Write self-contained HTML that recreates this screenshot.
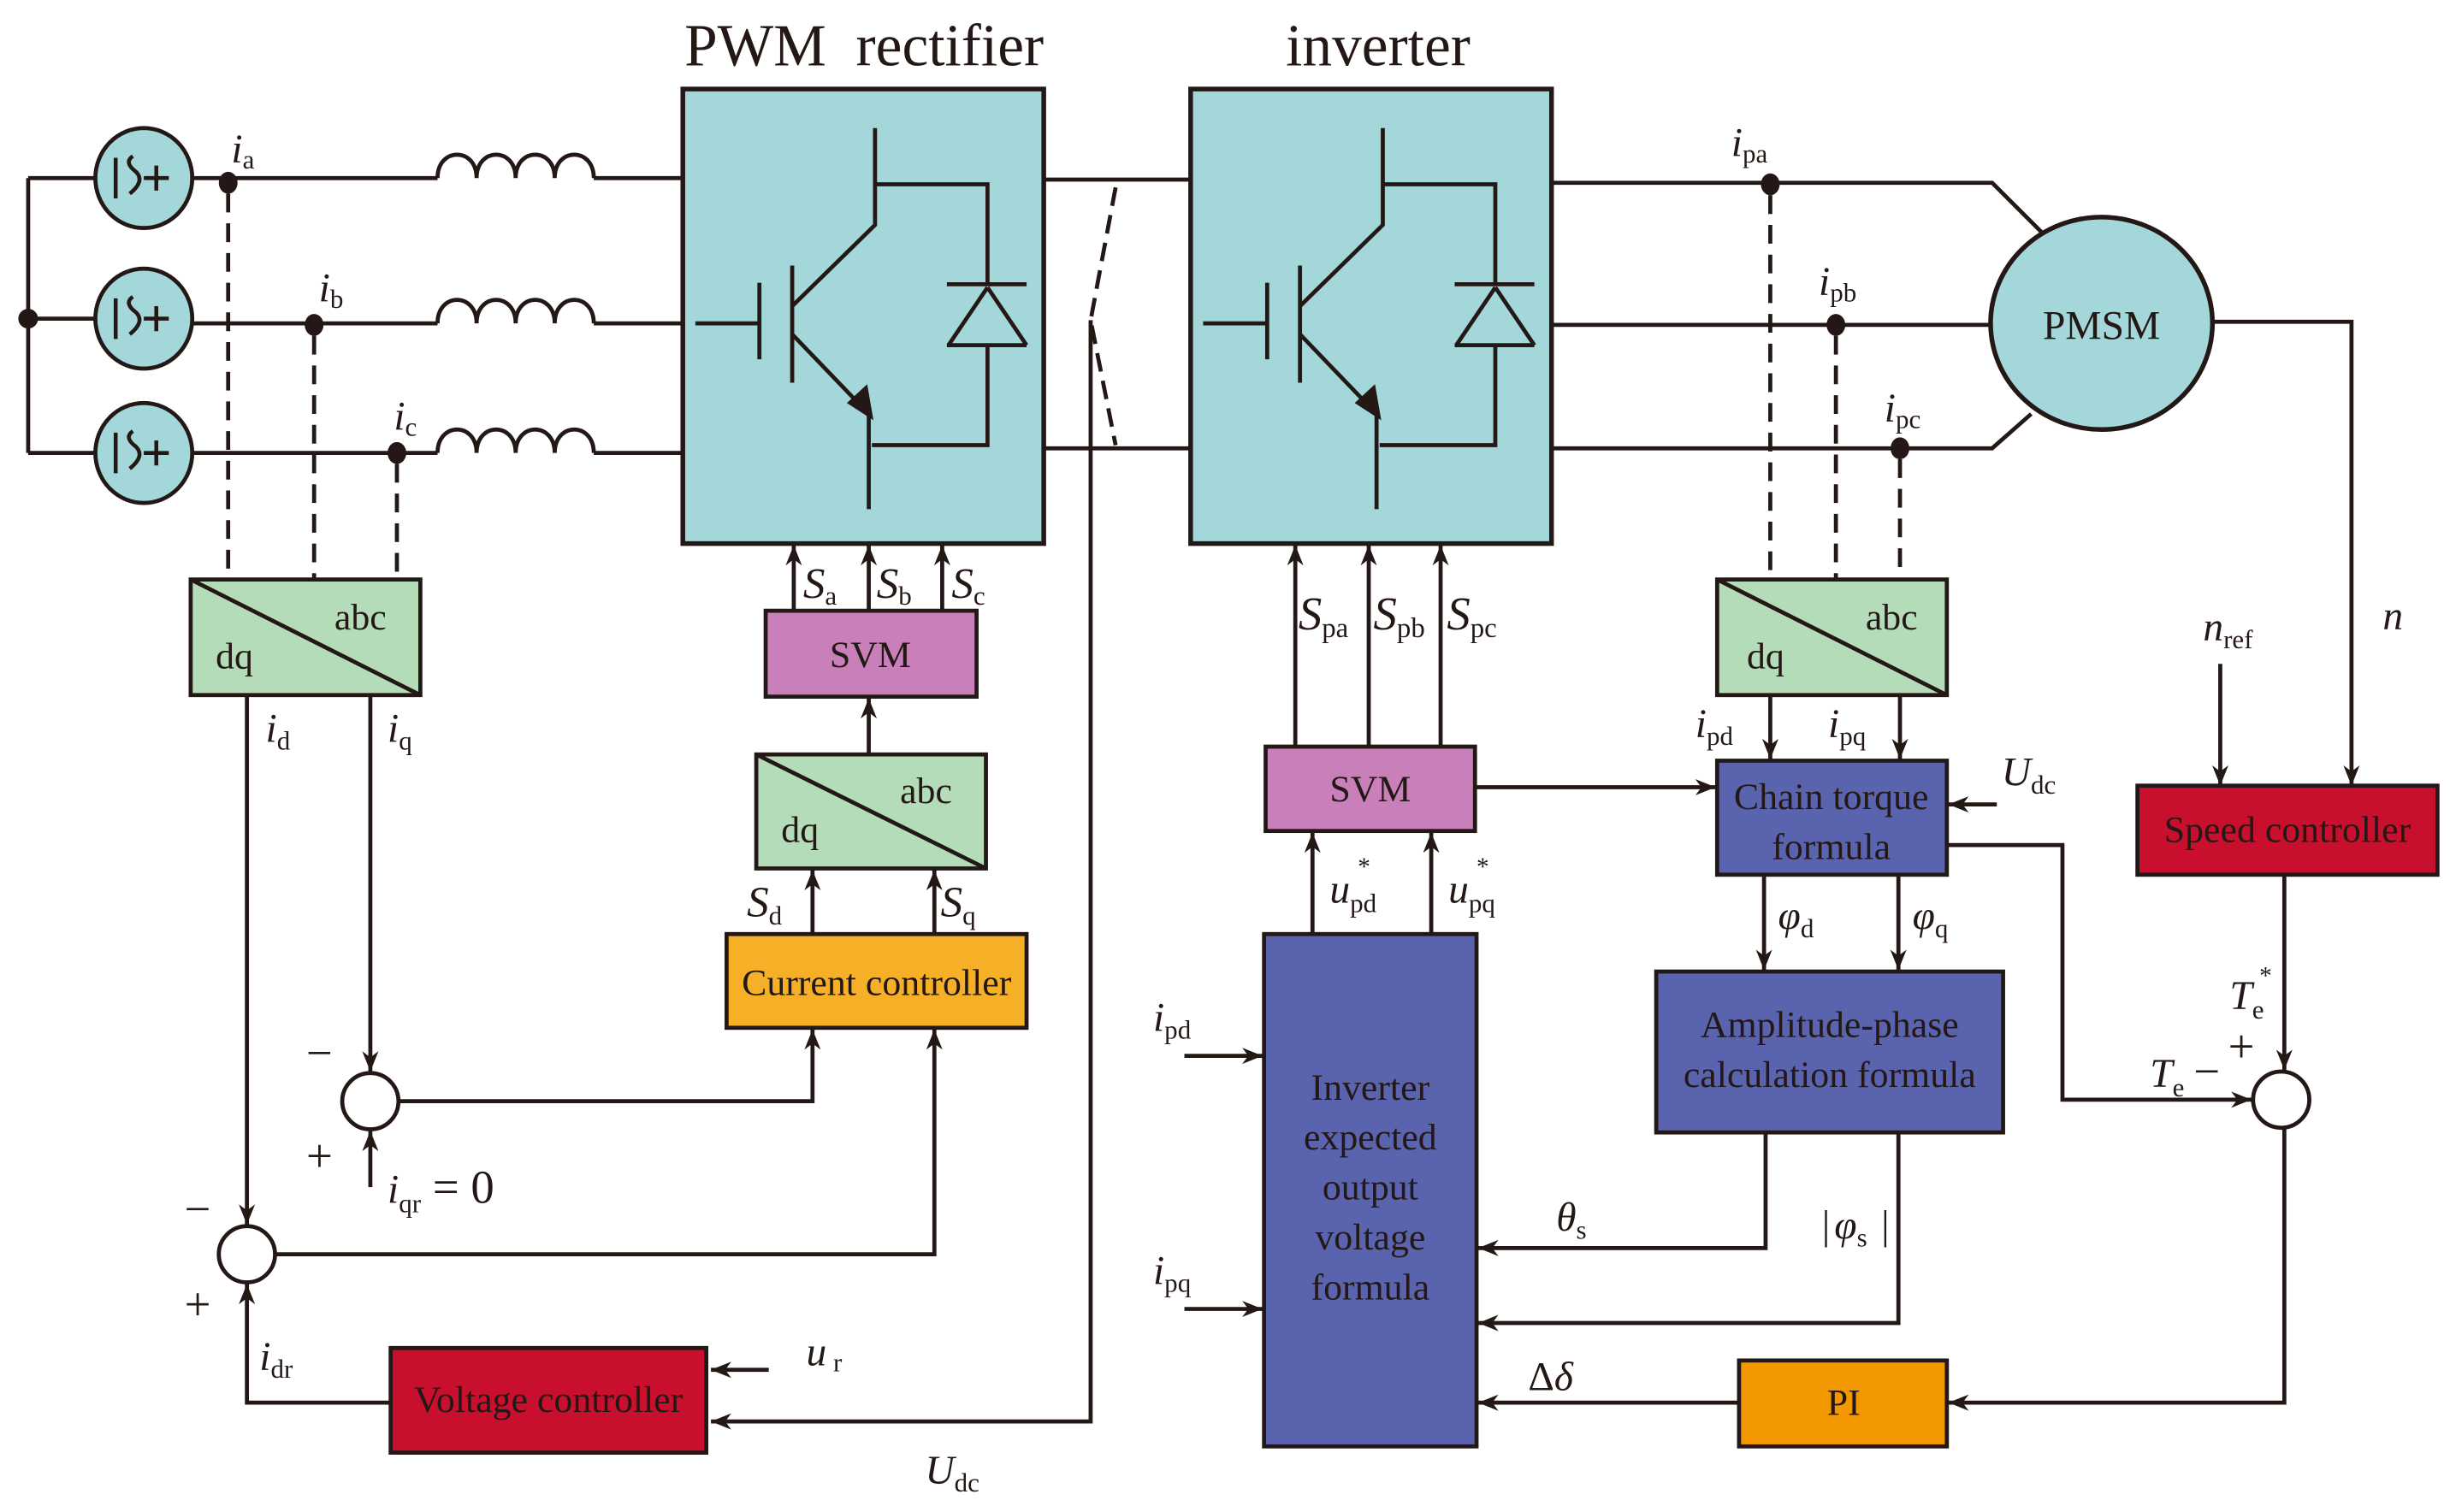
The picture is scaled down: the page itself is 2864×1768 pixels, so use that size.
<!DOCTYPE html>
<html><head><meta charset="utf-8"><style>html,body{margin:0;padding:0;background:#fff}svg{display:block}</style></head><body>
<svg width="2864" height="1768" viewBox="0 0 1568 968" xmlns="http://www.w3.org/2000/svg" font-family="Liberation Serif, serif" fill="none" stroke="#231815" stroke-width="2.6">
<defs><marker id="b" viewBox="0 0 10 10" refX="10" refY="5" markerWidth="13" markerHeight="13" markerUnits="userSpaceOnUse" orient="auto"><path d="M0,1 L10,5 L0,9 L3,5z" fill="#231815" stroke="none"/></marker></defs>
<!-- sources -->
<path d="M18,114V290M18,114H62M18,204H62M18,290H62"/>
<circle cx="18" cy="204" r="5" fill="#231815"/>
<g fill="#a3d7d9"><ellipse cx="92" cy="114" rx="31" ry="32"/><ellipse cx="92" cy="204" rx="31" ry="32"/><ellipse cx="92" cy="290" rx="31" ry="32"/></g>
<g stroke-width="2.5">
<path d="M74,101V127M85,100q-6,4 2,10q6,6 -4,14M92,114H108M100,106V122"/>
<path d="M74,191V217M85,190q-6,4 2,10q6,6 -4,14M92,204H108M100,196V212"/>
<path d="M74,277V303M85,276q-6,4 2,10q6,6 -4,14M92,290H108M100,282V298"/>
</g>
<!-- lines & inductors -->
<path d="M123,114H280M380,114H437M123,207H280M380,207H437M123,290H280M380,290H437"/>
<path d="M280,114c0-20 25-20 25,0c0-20 25-20 25,0c0-20 25-20 25,0c0-20 25-20 25,0"/>
<path d="M280,207c0-20 25-20 25,0c0-20 25-20 25,0c0-20 25-20 25,0c0-20 25-20 25,0"/>
<path d="M280,290c0-20 25-20 25,0c0-20 25-20 25,0c0-20 25-20 25,0c0-20 25-20 25,0"/>
<g fill="#231815" stroke="none"><ellipse cx="146" cy="117" rx="6" ry="7"/><ellipse cx="201" cy="208" rx="6" ry="7"/><ellipse cx="254" cy="290" rx="6" ry="7"/>
<ellipse cx="1133" cy="118" rx="6" ry="7"/><ellipse cx="1175" cy="208" rx="6" ry="7"/><ellipse cx="1216" cy="287" rx="6" ry="7"/></g>
<path d="M146,124V371M201,215V371M254,297V371M1133,125V371M1175,215V371M1216,294V371" stroke-dasharray="12,7"/>
<!-- abc/dq boxes -->
<g fill="#b5dcb9"><rect x="122" y="371" width="147" height="74"/><rect x="484" y="483" width="147" height="73"/><rect x="1099" y="371" width="147" height="74"/></g>
<path d="M122,371L269,445M484,483L631,556M1099,371L1246,445"/>
<g fill="#231815" stroke="none" font-size="24">
<text x="214" y="403">abc</text><text x="138" y="428">dq</text>
<text x="576" y="514">abc</text><text x="500" y="539">dq</text>
<text x="1194" y="403">abc</text><text x="1118" y="428">dq</text>
</g>
<!-- converters -->
<g fill="#a3d7d9" stroke-width="3"><rect x="437" y="57" width="231" height="291"/><rect x="762" y="57" width="231" height="291"/></g>
<g id="sw">
<path d="M560,82V144L507,196M507,170V245M486,181V230M445,207H486M507,214L556,265M556,265V326M560,118H632V182M606,182H657M606,221H657M632,184L607,221M632,184L657,221M632,221V285H558"/>
<path d="M559,269L542,258L555,246z" fill="#231815" stroke="none"/>
</g>
<use href="#sw" x="325"/>
<path d="M668,115H762M668,287H762"/>
<path d="M714,120L698,205L714,285" stroke-dasharray="12,6"/>
<path d="M698,205V910H455" marker-end="url(#b)"/>
<g fill="#231815" stroke="none" font-size="38"><text x="553" y="42" text-anchor="middle" xml:space="preserve">PWM  rectifier</text><text x="882" y="42" text-anchor="middle">inverter</text></g>
<!-- output lines and PMSM -->
<path d="M993,117H1275L1308,150M993,208H1275M993,287H1275L1300,265"/>
<ellipse cx="1345" cy="207" rx="71" ry="68" fill="#a3d7d9" stroke-width="3"/>
<text x="1345" y="217" font-size="26" text-anchor="middle" fill="#231815" stroke="none">PMSM</text>
<path d="M1416,206H1505V503" marker-end="url(#b)"/>
<path d="M1421,425V503" marker-end="url(#b)"/>
<!-- blocks -->
<rect x="490" y="391" width="135" height="55" fill="#c97fb9"/>
<rect x="810" y="478" width="134" height="54" fill="#c97fb9"/>
<rect x="465" y="598" width="192" height="60" fill="#f6b027"/>
<rect x="250" y="863" width="202" height="67" fill="#c8102e"/>
<rect x="1368" y="503" width="192" height="57" fill="#c8102e"/>
<rect x="809" y="598" width="136" height="328" fill="#5a63ae"/>
<rect x="1099" y="487" width="147" height="73" fill="#5a63ae"/>
<rect x="1060" y="622" width="222" height="103" fill="#5a63ae"/>
<rect x="1113" y="871" width="133" height="55" fill="#f39800"/>
<g fill="#231815" stroke="none" font-size="24" text-anchor="middle">
<text x="557" y="427">SVM</text><text x="877" y="513">SVM</text>
<text x="561" y="637">Current controller</text>
<text x="351" y="904">Voltage controller</text>
<text x="1464" y="539">Speed controller</text>
<text x="877" y="704">Inverter</text><text x="877" y="736">expected</text><text x="877" y="768">output</text><text x="877" y="800">voltage</text><text x="877" y="832">formula</text>
<text x="1172" y="518">Chain torque</text><text x="1172" y="550">formula</text>
<text x="1171" y="664">Amplitude-phase</text><text x="1171" y="696">calculation formula</text>
<text x="1180" y="906">PI</text>
</g>
<!-- arrows -->
<g marker-end="url(#b)">
<path d="M508,391V349"/><path d="M556,391V349"/><path d="M603,391V349"/>
<path d="M556,483V447"/><path d="M520,598V557"/><path d="M598,598V557"/>
<path d="M829,478V349"/><path d="M876,478V349"/><path d="M922,478V349"/>
<path d="M840,598V533"/><path d="M916,598V533"/>
<path d="M237,445V686"/><path d="M255,705H520V659"/><path d="M158,445V784"/><path d="M176,803H598V659"/>
<path d="M250,898H158V822"/><path d="M237,760V724"/><path d="M492,877H455"/>
<path d="M758,676H808"/><path d="M758,838H808"/>
<path d="M944,504H1098"/><path d="M1278,515H1247"/>
<path d="M1133,445V486"/><path d="M1216,445V486"/>
<path d="M1129,560V621"/><path d="M1215,560V621"/>
<path d="M1246,541H1320V704H1441"/>
<path d="M1462,560V685"/>
<path d="M1130,725V799H946"/><path d="M1215,725V847H946"/>
<path d="M1462,722V898H1247"/><path d="M1113,898H946"/>
</g>
<g fill="#fff"><circle cx="237" cy="705" r="18"/><circle cx="158" cy="803" r="18"/><circle cx="1460" cy="704" r="18"/></g>
<!-- labels -->
<g fill="#231815" stroke="none" font-size="26" font-style="italic">
<text x="148" y="104">i<tspan font-size="17" font-style="normal" dy="4">a</tspan></text>
<text x="204" y="193">i<tspan font-size="17" font-style="normal" dy="4">b</tspan></text>
<text x="252" y="275">i<tspan font-size="17" font-style="normal" dy="4">c</tspan></text>
<text x="1108" y="100">i<tspan font-size="17" font-style="normal" dy="4">pa</tspan></text>
<text x="1164" y="189">i<tspan font-size="17" font-style="normal" dy="4">pb</tspan></text>
<text x="1206" y="270">i<tspan font-size="17" font-style="normal" dy="4">pc</tspan></text>
<text x="514" y="383" font-size="28">S<tspan font-size="17" font-style="normal" dy="4">a</tspan></text>
<text x="561" y="383" font-size="28">S<tspan font-size="17" font-style="normal" dy="4">b</tspan></text>
<text x="609" y="383" font-size="28">S<tspan font-size="17" font-style="normal" dy="4">c</tspan></text>
<text x="478" y="587" font-size="28">S<tspan font-size="17" font-style="normal" dy="5">d</tspan></text>
<text x="602" y="587" font-size="28">S<tspan font-size="17" font-style="normal" dy="5">q</tspan></text>
<text x="831" y="403" font-size="30">S<tspan font-size="18" font-style="normal" dy="5">pa</tspan></text>
<text x="879" y="403" font-size="30">S<tspan font-size="18" font-style="normal" dy="5">pb</tspan></text>
<text x="926" y="403" font-size="30">S<tspan font-size="18" font-style="normal" dy="5">pc</tspan></text>
<text x="170" y="475">i<tspan font-size="17" font-style="normal" dy="5">d</tspan></text>
<text x="248" y="475">i<tspan font-size="17" font-style="normal" dy="5">q</tspan></text>
<text x="248" y="770">i<tspan font-size="17" font-style="normal" dy="6">qr</tspan><tspan font-style="normal" dy="-6" font-size="30"> = 0</tspan></text>
<text x="166" y="877">i<tspan font-size="17" font-style="normal" dy="5">dr</tspan></text>
<text x="516" y="874">u<tspan font-size="17" font-style="normal" dy="4"> r</tspan></text>
<text x="592" y="950">U<tspan font-size="17" font-style="normal" dy="5">dc</tspan></text>
<text x="1281" y="503">U<tspan font-size="17" font-style="normal" dy="5">dc</tspan></text>
<text x="851" y="578">u<tspan font-size="17" font-style="normal" dy="6">pd</tspan></text><text x="869" y="560" font-size="16" font-style="normal">*</text>
<text x="927" y="578">u<tspan font-size="17" font-style="normal" dy="6">pq</tspan></text><text x="945" y="560" font-size="16" font-style="normal">*</text>
<text x="1085" y="472">i<tspan font-size="17" font-style="normal" dy="5">pd</tspan></text>
<text x="1170" y="472">i<tspan font-size="17" font-style="normal" dy="5">pq</tspan></text>
<text x="1138" y="595">φ<tspan font-size="17" font-style="normal" dy="5">d</tspan></text>
<text x="1224" y="595">φ<tspan font-size="17" font-style="normal" dy="5">q</tspan></text>
<text x="738" y="660">i<tspan font-size="17" font-style="normal" dy="5">pd</tspan></text>
<text x="738" y="822">i<tspan font-size="17" font-style="normal" dy="5">pq</tspan></text>
<text x="996" y="788">θ<tspan font-size="17" font-style="normal" dy="5">s</tspan></text>
<text x="1166" y="793" font-style="normal">|</text><text x="1174" y="793">φ<tspan font-size="17" font-style="normal" dy="5">s</tspan></text><text x="1204" y="793" font-style="normal">|</text>
<text x="978" y="890" font-style="normal">Δ<tspan font-style="italic">δ</tspan></text>
<text x="1410" y="410">n<tspan font-size="17" font-style="normal" dy="5">ref</tspan></text>
<text x="1525" y="403">n</text>
<text x="1427" y="646">T<tspan font-size="17" font-style="normal" dy="6">e</tspan></text><text x="1446" y="630" font-size="16" font-style="normal">*</text>
<text x="1376" y="696">T<tspan font-size="17" font-style="normal" dy="6">e</tspan></text>
</g>
<g fill="#231815" stroke="none" font-size="30">
<text x="196" y="684">−</text><text x="196" y="750">+</text>
<text x="118" y="784">−</text><text x="118" y="845">+</text>
<text x="1404" y="696">−</text><text x="1426" y="680">+</text>
</g>
</svg>
</body></html>
